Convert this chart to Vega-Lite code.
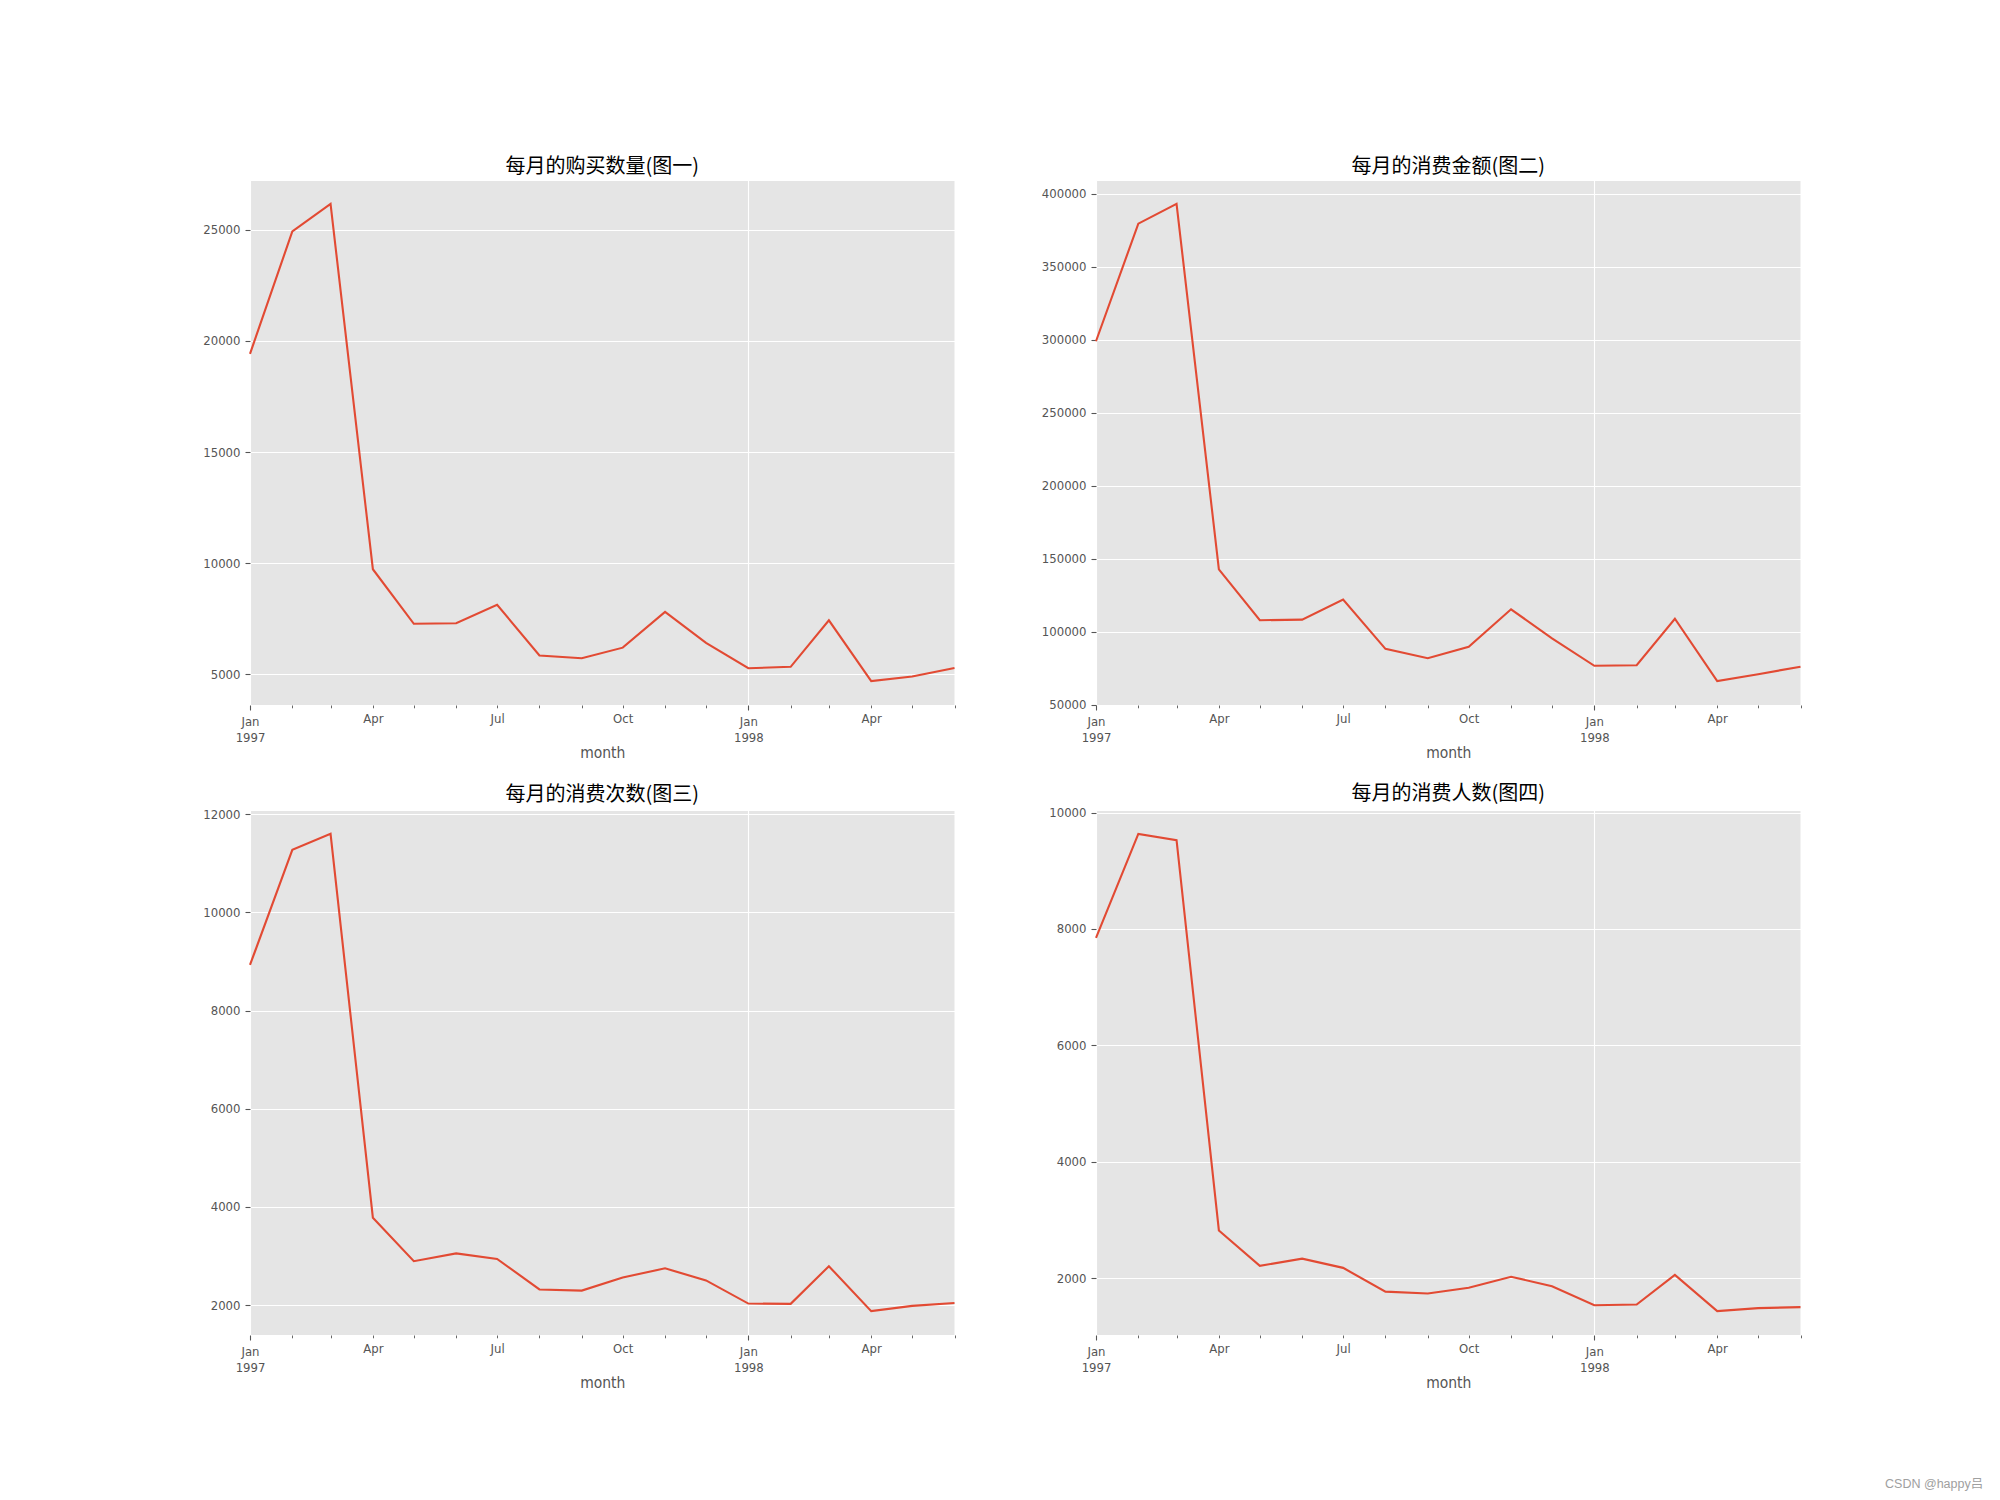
{
  "$schema": "https://vega.github.io/schema/vega-lite/v6.json",
  "padding": {"left": 202, "top": 156, "right": 0, "bottom": 0},
  "background": "white",
  "title": {"text": "CSDN @happy吕", "orient": "bottom", "anchor": "end", "dx": 178, "offset": 87, "fontSize": 12.5, "font": "Liberation Sans, Noto Sans CJK SC", "fontWeight": "normal", "color": "#A0A0A0"},
  "data": {"values": [
    {"month": "1997-01-01", "qty": 19416, "amount": 299060.17, "orders": 8928, "users": 7846},
    {"month": "1997-02-01", "qty": 24921, "amount": 379590.03, "orders": 11272, "users": 9633},
    {"month": "1997-03-01", "qty": 26159, "amount": 393155.27, "orders": 11598, "users": 9524},
    {"month": "1997-04-01", "qty": 9729, "amount": 142824.49, "orders": 3781, "users": 2822},
    {"month": "1997-05-01", "qty": 7275, "amount": 107933.30, "orders": 2895, "users": 2214},
    {"month": "1997-06-01", "qty": 7301, "amount": 108395.87, "orders": 3054, "users": 2339},
    {"month": "1997-07-01", "qty": 8131, "amount": 122078.88, "orders": 2942, "users": 2180},
    {"month": "1997-08-01", "qty": 5851, "amount": 88367.69, "orders": 2320, "users": 1772},
    {"month": "1997-09-01", "qty": 5729, "amount": 81948.80, "orders": 2296, "users": 1739},
    {"month": "1997-10-01", "qty": 6203, "amount": 89780.77, "orders": 2562, "users": 1839},
    {"month": "1997-11-01", "qty": 7812, "amount": 115448.64, "orders": 2750, "users": 2028},
    {"month": "1997-12-01", "qty": 6418, "amount": 95577.35, "orders": 2504, "users": 1864},
    {"month": "1998-01-01", "qty": 5278, "amount": 76756.78, "orders": 2032, "users": 1537},
    {"month": "1998-02-01", "qty": 5340, "amount": 77096.96, "orders": 2026, "users": 1551},
    {"month": "1998-03-01", "qty": 7431, "amount": 108970.15, "orders": 2793, "users": 2060},
    {"month": "1998-04-01", "qty": 4697, "amount": 66231.52, "orders": 1878, "users": 1437},
    {"month": "1998-05-01", "qty": 4903, "amount": 70989.66, "orders": 1985, "users": 1488},
    {"month": "1998-06-01", "qty": 5287, "amount": 76109.30, "orders": 2043, "users": 1506}
  ]},
  "columns": 2,
  "bounds": "flush",
  "spacing": {"row": 105, "column": 141},
  "concat": [
    {
      "width": 704.5, "height": 525,
      "title": "每月的购买数量(图一)",
      "mark": {"type": "line", "color": "#E24A33", "strokeWidth": 2.1},
      "encoding": {
        "x": {"field": "month", "type": "temporal", "title": "month",
          "scale": {"type": "utc", "nice": false, "domain": [{"year": 1997, "month": 1, "date": 1, "utc": true}, {"year": 1998, "month": 6, "date": 1, "utc": true}]},
          "axis": {
            "values": [{"year":1997,"month":1,"date":1,"utc":true},{"year":1997,"month":2,"date":1,"utc":true},{"year":1997,"month":3,"date":1,"utc":true},{"year":1997,"month":4,"date":1,"utc":true},{"year":1997,"month":5,"date":1,"utc":true},{"year":1997,"month":6,"date":1,"utc":true},{"year":1997,"month":7,"date":1,"utc":true},{"year":1997,"month":8,"date":1,"utc":true},{"year":1997,"month":9,"date":1,"utc":true},{"year":1997,"month":10,"date":1,"utc":true},{"year":1997,"month":11,"date":1,"utc":true},{"year":1997,"month":12,"date":1,"utc":true},{"year":1998,"month":1,"date":1,"utc":true},{"year":1998,"month":2,"date":1,"utc":true},{"year":1998,"month":3,"date":1,"utc":true},{"year":1998,"month":4,"date":1,"utc":true},{"year":1998,"month":5,"date":1,"utc":true},{"year":1998,"month":6,"date":1,"utc":true}],
            "labelExpr": "utcmonth(datum.value)==0 ? [utcFormat(datum.value,'%b'), utcFormat(datum.value,'%Y')] : (utcmonth(datum.value)%3==0 ? utcFormat(datum.value,'%b') : '')",
            "tickSize": {"condition": {"test": "utcmonth(datum.value)==0", "value": 5}, "value": 2.8},
            "tickWidth": {"condition": {"test": "utcmonth(datum.value)==0", "value": 1.1}, "value": 0.9},
            "gridOpacity": {"condition": {"test": "utcmonth(datum.value)==0", "value": 1}, "value": 0}
          }
        },
        "y": {"field": "qty", "type": "quantitative", "title": null,
          "scale": {"domain": [3624, 27232], "nice": false, "zero": false},
          "axis": {"values": [5000, 10000, 15000, 20000, 25000], "format": "d"}
        }
      }
    },
    {
      "width": 704.5, "height": 525,
      "title": "每月的消费金额(图二)",
      "mark": {"type": "line", "color": "#E24A33", "strokeWidth": 2.1},
      "encoding": {
        "x": {"field": "month", "type": "temporal", "title": "month",
          "scale": {"type": "utc", "nice": false, "domain": [{"year": 1997, "month": 1, "date": 1, "utc": true}, {"year": 1998, "month": 6, "date": 1, "utc": true}]},
          "axis": {
            "values": [{"year":1997,"month":1,"date":1,"utc":true},{"year":1997,"month":2,"date":1,"utc":true},{"year":1997,"month":3,"date":1,"utc":true},{"year":1997,"month":4,"date":1,"utc":true},{"year":1997,"month":5,"date":1,"utc":true},{"year":1997,"month":6,"date":1,"utc":true},{"year":1997,"month":7,"date":1,"utc":true},{"year":1997,"month":8,"date":1,"utc":true},{"year":1997,"month":9,"date":1,"utc":true},{"year":1997,"month":10,"date":1,"utc":true},{"year":1997,"month":11,"date":1,"utc":true},{"year":1997,"month":12,"date":1,"utc":true},{"year":1998,"month":1,"date":1,"utc":true},{"year":1998,"month":2,"date":1,"utc":true},{"year":1998,"month":3,"date":1,"utc":true},{"year":1998,"month":4,"date":1,"utc":true},{"year":1998,"month":5,"date":1,"utc":true},{"year":1998,"month":6,"date":1,"utc":true}],
            "labelExpr": "utcmonth(datum.value)==0 ? [utcFormat(datum.value,'%b'), utcFormat(datum.value,'%Y')] : (utcmonth(datum.value)%3==0 ? utcFormat(datum.value,'%b') : '')",
            "tickSize": {"condition": {"test": "utcmonth(datum.value)==0", "value": 5}, "value": 2.8},
            "tickWidth": {"condition": {"test": "utcmonth(datum.value)==0", "value": 1.1}, "value": 0.9},
            "gridOpacity": {"condition": {"test": "utcmonth(datum.value)==0", "value": 1}, "value": 0}
          }
        },
        "y": {"field": "amount", "type": "quantitative", "title": null,
          "scale": {"domain": [49885, 409501], "nice": false, "zero": false},
          "axis": {"values": [50000, 100000, 150000, 200000, 250000, 300000, 350000, 400000], "format": "d"}
        }
      }
    },
    {
      "width": 704.5, "height": 525,
      "title": "每月的消费次数(图三)",
      "mark": {"type": "line", "color": "#E24A33", "strokeWidth": 2.1},
      "encoding": {
        "x": {"field": "month", "type": "temporal", "title": "month",
          "scale": {"type": "utc", "nice": false, "domain": [{"year": 1997, "month": 1, "date": 1, "utc": true}, {"year": 1998, "month": 6, "date": 1, "utc": true}]},
          "axis": {
            "values": [{"year":1997,"month":1,"date":1,"utc":true},{"year":1997,"month":2,"date":1,"utc":true},{"year":1997,"month":3,"date":1,"utc":true},{"year":1997,"month":4,"date":1,"utc":true},{"year":1997,"month":5,"date":1,"utc":true},{"year":1997,"month":6,"date":1,"utc":true},{"year":1997,"month":7,"date":1,"utc":true},{"year":1997,"month":8,"date":1,"utc":true},{"year":1997,"month":9,"date":1,"utc":true},{"year":1997,"month":10,"date":1,"utc":true},{"year":1997,"month":11,"date":1,"utc":true},{"year":1997,"month":12,"date":1,"utc":true},{"year":1998,"month":1,"date":1,"utc":true},{"year":1998,"month":2,"date":1,"utc":true},{"year":1998,"month":3,"date":1,"utc":true},{"year":1998,"month":4,"date":1,"utc":true},{"year":1998,"month":5,"date":1,"utc":true},{"year":1998,"month":6,"date":1,"utc":true}],
            "labelExpr": "utcmonth(datum.value)==0 ? [utcFormat(datum.value,'%b'), utcFormat(datum.value,'%Y')] : (utcmonth(datum.value)%3==0 ? utcFormat(datum.value,'%b') : '')",
            "tickSize": {"condition": {"test": "utcmonth(datum.value)==0", "value": 5}, "value": 2.8},
            "tickWidth": {"condition": {"test": "utcmonth(datum.value)==0", "value": 1.1}, "value": 0.9},
            "gridOpacity": {"condition": {"test": "utcmonth(datum.value)==0", "value": 1}, "value": 0}
          }
        },
        "y": {"field": "orders", "type": "quantitative", "title": null,
          "scale": {"domain": [1392, 12084], "nice": false, "zero": false},
          "axis": {"values": [2000, 4000, 6000, 8000, 10000, 12000], "format": "d"}
        }
      }
    },
    {
      "width": 704.5, "height": 525,
      "title": "每月的消费人数(图四)",
      "mark": {"type": "line", "color": "#E24A33", "strokeWidth": 2.1},
      "encoding": {
        "x": {"field": "month", "type": "temporal", "title": "month",
          "scale": {"type": "utc", "nice": false, "domain": [{"year": 1997, "month": 1, "date": 1, "utc": true}, {"year": 1998, "month": 6, "date": 1, "utc": true}]},
          "axis": {
            "values": [{"year":1997,"month":1,"date":1,"utc":true},{"year":1997,"month":2,"date":1,"utc":true},{"year":1997,"month":3,"date":1,"utc":true},{"year":1997,"month":4,"date":1,"utc":true},{"year":1997,"month":5,"date":1,"utc":true},{"year":1997,"month":6,"date":1,"utc":true},{"year":1997,"month":7,"date":1,"utc":true},{"year":1997,"month":8,"date":1,"utc":true},{"year":1997,"month":9,"date":1,"utc":true},{"year":1997,"month":10,"date":1,"utc":true},{"year":1997,"month":11,"date":1,"utc":true},{"year":1997,"month":12,"date":1,"utc":true},{"year":1998,"month":1,"date":1,"utc":true},{"year":1998,"month":2,"date":1,"utc":true},{"year":1998,"month":3,"date":1,"utc":true},{"year":1998,"month":4,"date":1,"utc":true},{"year":1998,"month":5,"date":1,"utc":true},{"year":1998,"month":6,"date":1,"utc":true}],
            "labelExpr": "utcmonth(datum.value)==0 ? [utcFormat(datum.value,'%b'), utcFormat(datum.value,'%Y')] : (utcmonth(datum.value)%3==0 ? utcFormat(datum.value,'%b') : '')",
            "tickSize": {"condition": {"test": "utcmonth(datum.value)==0", "value": 5}, "value": 2.8},
            "tickWidth": {"condition": {"test": "utcmonth(datum.value)==0", "value": 1.1}, "value": 0.9},
            "gridOpacity": {"condition": {"test": "utcmonth(datum.value)==0", "value": 1}, "value": 0}
          }
        },
        "y": {"field": "users", "type": "quantitative", "title": null,
          "scale": {"domain": [1027, 10043], "nice": false, "zero": false},
          "axis": {"values": [2000, 4000, 6000, 8000, 10000], "format": "d"}
        }
      }
    }
  ],
  "config": {
    "view": {"fill": "#E5E5E5", "stroke": "white", "strokeWidth": 1},
    "axis": {
      "domain": false,
      "labelColor": "#555555", "tickColor": "#555555",
      "labelFont": "DejaVu Sans Condensed, Noto Sans CJK SC", "labelFontSize": 13,
      "labelPadding": 5, "labelOverlap": false, "labelFlush": false, "labelLineHeight": 16,
      "gridColor": "white", "gridWidth": 1.1,
      "tickSize": 5, "tickWidth": 1.1,
      "titleColor": "#555555", "titleFont": "DejaVu Sans Condensed, Noto Sans CJK SC", "titleFontSize": 15.5, "titleFontWeight": "normal", "titlePadding": 1
    },
    "title": {"font": "Noto Sans CJK SC", "fontSize": 20, "fontWeight": "normal", "color": "black", "offset": 3}
  }
}
